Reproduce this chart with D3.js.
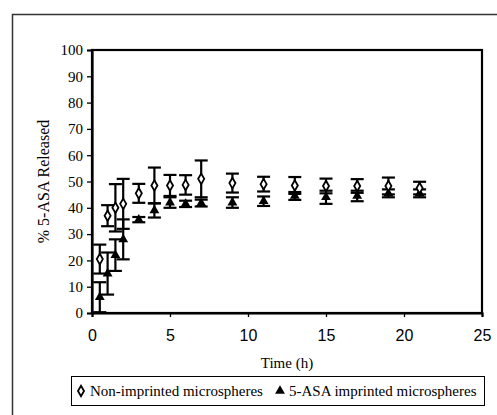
<!DOCTYPE html>
<html>
<head>
<meta charset="utf-8">
<script src="https://cdn.jsdelivr.net/npm/d3@7"></script>
<style>
  body { margin: 0; background: #fff; }
  svg { display: block; }
</style>
</head>
<body>
<div id="chart"></div>
<script>
// release data
const time = [0.5, 1, 1.5, 2, 3, 4, 5, 6, 7, 9, 11, 13, 15, 17, 19, 21];
const nonImprinted = [20.5, 37, 40, 41.5, 45.5, 48.5, 48.5, 48.7, 51, 49.4, 49, 48.5, 48.3, 48.3, 48.3, 47.5];
const nonImprintedErr = [5.5, 4, 9, 9.5, 3.6, 6.8, 4, 3.7, 7, 3.6, 2.8, 3.2, 2.8, 2.6, 3.2, 2.4];
const imprinted = [6, 15, 22, 28, 35.5, 39, 42, 41.5, 41.8, 42, 42.5, 44.5, 44, 44.5, 45.5, 45.5];
const imprintedErr = [5.7, 8, 6, 7.6, 1, 2.7, 2, 1.2, 1.3, 2, 1.8, 1.5, 2.5, 2, 1.5, 1.5];
const xTicks = [0, 5, 10, 15, 20, 25];
const yTicks = [0, 10, 20, 30, 40, 50, 60, 70, 80, 90, 100];
const seriesNames = ["Non-imprinted microspheres", "5-ASA imprinted microspheres"];

const W = 497, H = 415;
const margin = {top: 50, right: 15, bottom: 102, left: 92};
const width = W - margin.left - margin.right;
const height = H - margin.top - margin.bottom;
const serif = "'Liberation Serif', 'Times New Roman', serif";

const svgRoot = d3.select("#chart").append("svg")
    .attr("width", W)
    .attr("height", H);

// outer chart frame (cut by the window on right and bottom)
svgRoot.append("path")
    .attr("d", "M12.5,420V14.5H500")
    .attr("fill", "none")
    .attr("stroke", "#333")
    .attr("stroke-width", 1.5);

const svg = svgRoot.append("g")
    .attr("transform", "translate(" + margin.left + "," + margin.top + ")");

const x = d3.scaleLinear().domain([0, 25]).range([0, width]);
const y = d3.scaleLinear().domain([0, 100]).range([height, 0]);

// plot frame
svg.append("rect")
    .attr("width", width)
    .attr("height", height)
    .attr("fill", "none")
    .attr("stroke", "#000")
    .attr("stroke-width", 2.2);

// axes
const yAxis = svg.append("g")
    .call(d3.axisLeft(y).tickValues(yTicks).tickSize(5).tickPadding(4));
yAxis.select(".domain").attr("stroke-width", 2.2);
yAxis.selectAll("line").attr("stroke-width", 1.3);
yAxis.selectAll("text")
    .attr("font-family", serif)
    .attr("font-size", 15)
    .attr("fill", "#000");

const xAxis = svg.append("g")
    .attr("transform", "translate(0," + height + ")")
    .call(d3.axisBottom(x).tickValues(xTicks).tickSize(4).tickPadding(13));
xAxis.select(".domain").attr("stroke-width", 2.2);
xAxis.selectAll("line").attr("stroke-width", 1.3);
xAxis.selectAll("text")
    .attr("font-family", "'Liberation Sans', Arial, sans-serif")
    .attr("font-size", 16)
    .attr("fill", "#000");

// axis titles
svg.append("text")
    .attr("x", width / 2)
    .attr("y", height + 55)
    .attr("text-anchor", "middle")
    .attr("font-family", serif)
    .attr("font-size", 15)
    .text("Time (h)");

svg.append("text")
    .attr("transform", "translate(-43," + (height / 2) + ") rotate(-90)")
    .attr("text-anchor", "middle")
    .attr("font-family", serif)
    .attr("font-size", 16)
    .text("% 5-ASA Released");

const series = [
    {vals: imprinted, errs: imprintedErr},
    {vals: nonImprinted, errs: nonImprintedErr}
];

const capW = 6.5;

// error bars first so markers sit on top
series.forEach(s => {
    const g = svg.append("g").attr("stroke", "#000").attr("stroke-width", 2.2);
    const rows = time.map((t, i) => ({t: t, v: s.vals[i], e: s.errs[i]}));
    g.selectAll("line.v").data(rows).join("line")
        .attr("x1", d => x(d.t)).attr("x2", d => x(d.t))
        .attr("y1", d => y(Math.min(100, d.v + d.e)))
        .attr("y2", d => y(Math.max(0, d.v - d.e)));
    g.selectAll("line.top").data(rows).join("line")
        .attr("x1", d => x(d.t) - capW).attr("x2", d => x(d.t) + capW)
        .attr("y1", d => y(d.v + d.e)).attr("y2", d => y(d.v + d.e));
    g.selectAll("line.bot").data(rows.filter(d => d.v - d.e > 0)).join("line")
        .attr("x1", d => x(d.t) - capW).attr("x2", d => x(d.t) + capW)
        .attr("y1", d => y(d.v - d.e)).attr("y2", d => y(d.v - d.e));
});

const triangle = d3.symbol().type(d3.symbolTriangle).size(42);
const diamond = d3.symbol().type(d3.symbolDiamond).size(32);

svg.append("g").selectAll("path")
    .data(time.map((t, i) => ({t: t, v: imprinted[i]})))
    .join("path")
    .attr("d", triangle)
    .attr("transform", d => "translate(" + x(d.t) + "," + y(d.v) + ")")
    .attr("fill", "#000");

svg.append("g").selectAll("path")
    .data(time.map((t, i) => ({t: t, v: nonImprinted[i]})))
    .join("path")
    .attr("d", diamond)
    .attr("transform", d => "translate(" + x(d.t) + "," + y(d.v) + ")")
    .attr("fill", "#fff")
    .attr("stroke", "#000")
    .attr("stroke-width", 1.8);

// legend
const legend = svgRoot.append("g");
legend.append("rect")
    .attr("x", 71.5).attr("y", 376.5)
    .attr("width", 413).attr("height", 29)
    .attr("fill", "#fff")
    .attr("stroke", "#000")
    .attr("stroke-width", 1);

legend.append("path")
    .attr("d", diamond)
    .attr("transform", "translate(81,391)")
    .attr("fill", "#fff").attr("stroke", "#000").attr("stroke-width", 1.8);
legend.append("text")
    .attr("x", 90).attr("y", 396)
    .attr("font-family", serif)
    .attr("font-size", 15)
    .text(seriesNames[0]);

legend.append("path")
    .attr("d", triangle)
    .attr("transform", "translate(280,391)")
    .attr("fill", "#000");
legend.append("text")
    .attr("x", 289).attr("y", 396)
    .attr("font-family", serif)
    .attr("font-size", 15)
    .text(seriesNames[1]);
</script>
</body>
</html>
